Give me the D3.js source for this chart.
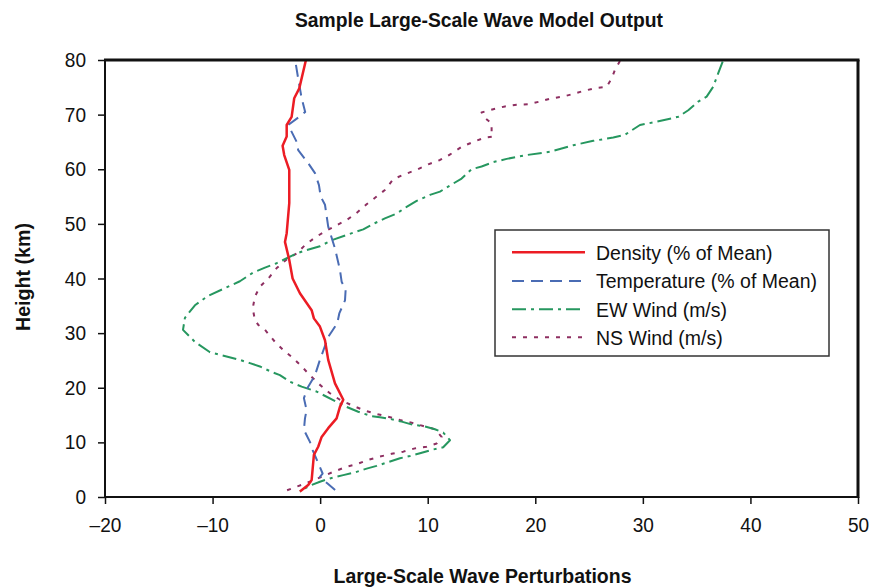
<!DOCTYPE html>
<html>
<head>
<meta charset="utf-8">
<script src="https://cdn.jsdelivr.net/npm/d3@7"></script>
<style>
  html, body { margin: 0; padding: 0; background: #fff; }
  svg { display: block; font-family: "Liberation Sans", Arial, sans-serif; }
</style>
</head>
<body>
<svg id="chart" width="875" height="588"></svg>
<script>
// ---------------- DATA ----------------
const titleText = "Sample Large-Scale Wave Model Output";
const xLabelText = "Large-Scale Wave Perturbations";
const yLabelText = "Height (km)";
const xTicks = [-20, -10, 0, 10, 20, 30, 40, 50];
const yTicks = [0, 10, 20, 30, 40, 50, 60, 70, 80];
const seriesNames = ["Density (% of Mean)", "Temperature (% of Mean)", "EW Wind (m/s)", "NS Wind (m/s)"];

const densityH = [80, 74.8, 73, 69.6, 68.1, 66, 64.3, 62.6, 59.9, 53.8, 48.3, 46.7, 43.4, 40, 37.3, 34.2, 32.7, 31.2, 28.7, 25.1, 20.8, 17.8, 16.5, 14.4, 12.6, 11.0, 9.2, 7.7, 3.1, 2.2, 1.0];
const densityX = [-1.32, -1.94, -2.41, -2.65, -3.11, -3.11, -3.49, -3.34, -2.87, -2.87, -3.11, -3.27, -2.87, -2.56, -1.88, -0.79, -0.58, -0.02, 0.45, 0.75, 1.38, 2.15, 1.84, 1.53, 0.75, 0.14, -0.18, -0.58, -0.79, -1.11, -1.88];

const tempH = [79.1, 76.6, 73, 70.5, 69.7, 68.1, 65, 63.5, 61.1, 59.3, 57.1, 55, 53.5, 49.5, 45.5, 41.6, 39.4, 37.9, 36, 33.6, 31.8, 29.3, 25.1, 22.3, 20.2, 18.1, 15.9, 14.4, 12.3, 10.1, 8.6, 6.2, 4.3, 3.7, 2.5, 0.8];
const tempX = [-2.25, -2.04, -1.72, -1.39, -1.88, -2.97, -2.18, -2.04, -1.11, -0.48, -0.11, 0.05, 0.45, 0.75, 1.38, 1.84, 2.0, 2.37, 2.31, 1.78, 1.59, 0.75, -0.02, -0.48, -1.11, -1.51, -1.26, -1.41, -1.51, -0.95, -0.70, -0.18, 0.23, -0.02, 0.66, 1.68];

const ewH = [79.7, 77.6, 75.1, 73.3, 72.4, 70.8, 69.6, 68.7, 68.1, 66.3, 65.8, 65.2, 64.4, 63.2, 62.6, 61.9, 61.3, 60.5, 60.0, 58.3, 57.2, 55.9, 55.3, 54.2, 53.1, 51.9, 51.0, 50.0, 49.0, 48.4, 47.0, 45.9, 45.2, 44.6, 42.8, 42.0, 41.1, 39.5, 36.8, 35.1, 32.8, 30.6, 28.4, 26.5, 25.1, 24.5, 23.9, 22.9, 22.3, 21.1, 20.2, 19.3, 17.4, 16.5, 15.6, 14.8, 14.6, 14.3, 13.8, 13.2, 13.0, 12.4, 11.8, 10.4, 9.1, 8.7, 8.0, 7.5, 7.1, 6.3, 5.7, 5.2, 4.5, 4.0, 3.4, 2.8, 2.2, 1.6, 1.0];
const ewX = [37.42, 37.01, 36.54, 35.93, 35.15, 34.22, 33.29, 31.28, 29.73, 28.33, 27.25, 25.39, 23.53, 21.36, 19.20, 17.34, 16.09, 15.01, 14.08, 13.15, 12.22, 11.14, 10.21, 8.97, 8.04, 7.11, 6.02, 4.94, 4.01, 3.08, 1.07, -0.02, -1.26, -2.18, -4.04, -5.13, -6.22, -7.46, -10.43, -11.64, -12.57, -12.75, -11.64, -10.24, -7.46, -6.53, -5.60, -4.51, -3.74, -2.81, -1.72, -0.33, 1.53, 2.46, 3.54, 4.79, 5.56, 6.49, 7.58, 8.65, 9.58, 10.67, 11.44, 12.07, 11.44, 10.51, 9.28, 8.35, 7.42, 6.18, 5.25, 4.32, 3.24, 2.15, 0.91, -0.02, -0.79, -1.41, -1.88];

const nsH = [79.8, 78.2, 76.6, 75.1, 74.9, 74.4, 73.8, 73.3, 73.0, 72.4, 71.9, 71.8, 71.5, 71.0, 70.4, 69.4, 68.4, 66.6, 66.0, 65.8, 65.0, 64.1, 62.7, 61.7, 60.9, 59.9, 59.1, 58.2, 56.2, 55.0, 53.6, 52.0, 50.7, 49.6, 48.6, 47.5, 46.1, 44.6, 43.5, 41.9, 40.0, 38.5, 36.7, 34.5, 32.4, 31.5, 30.6, 28.4, 26.9, 25.4, 23.9, 22.3, 20.8, 19.0, 17.8, 16.8, 15.8, 15.2, 14.7, 14.1, 13.6, 13.0, 12.4, 11.0, 9.8, 9.2, 8.9, 8.3, 7.9, 7.4, 6.8, 6.0, 5.5, 4.6, 3.7, 2.8, 2.0, 1.2];
const nsX = [27.87, 27.41, 27.10, 26.63, 25.70, 24.62, 23.53, 22.60, 21.52, 20.43, 19.35, 18.27, 17.18, 16.09, 15.01, 15.32, 15.94, 15.94, 16.09, 15.32, 14.23, 13.15, 12.07, 11.14, 10.05, 8.97, 7.88, 6.80, 6.02, 5.25, 4.32, 3.39, 2.46, 1.38, 0.45, -0.48, -1.41, -2.18, -3.11, -4.04, -4.82, -5.60, -6.06, -6.27, -6.06, -5.75, -5.13, -4.20, -3.43, -2.50, -1.72, -0.95, -0.18, 0.91, 1.84, 2.93, 4.16, 5.25, 6.33, 7.42, 8.51, 9.58, 10.67, 11.29, 10.83, 9.90, 8.81, 7.73, 6.65, 5.56, 4.47, 3.39, 2.40, 1.22, 0.14, -0.95, -2.04, -3.11];

// ---------------- STYLE / LAYOUT ----------------
const W = 875, H = 588;
const mLeft = 105, mRight = 858, mTop = 60, mBottom = 497;
const colors = ["#ec1c24", "#4a6cb4", "#26975f", "#8e2f61"];
const dashes = [null, "12,7", "14,5,3,5", "4,7"];
const widths = [2.5, 2, 2, 2];

const svg = d3.select("#chart");
const x = d3.scaleLinear().domain([-20, 50]).range([mLeft, mRight]);
const y = d3.scaleLinear().domain([0, 80]).range([mBottom, mTop]);

function squeeze(sel, ratio) {
  sel.each(function () {
    const w = this.getComputedTextLength();
    d3.select(this).attr("textLength", w * ratio).attr("lengthAdjust", "spacingAndGlyphs");
  });
}
function fitTo(sel, target) {
  const w = sel.node().getComputedTextLength();
  sel.attr("textLength", target).attr("lengthAdjust", "spacingAndGlyphs");
  return target / w;
}

// series lines
const series = [
  { xs: densityX, hs: densityH },
  { xs: tempX, hs: tempH },
  { xs: ewX, hs: ewH },
  { xs: nsX, hs: nsH }
];
const line = d3.line().x(d => x(d[0])).y(d => y(d[1]));
svg.append("clipPath").attr("id", "clip").append("rect")
  .attr("x", mLeft).attr("y", mTop).attr("width", mRight - mLeft).attr("height", mBottom - mTop);
const gLines = svg.append("g").attr("clip-path", "url(#clip)");
[3, 2, 1, 0].forEach(i => {
  const s = series[i];
  const pts = s.xs.map((v, k) => [v, s.hs[k]]);
  gLines.append("path").datum(pts)
    .attr("d", line)
    .attr("fill", "none")
    .attr("stroke", colors[i])
    .attr("stroke-width", widths[i])
    .attr("stroke-dasharray", dashes[i])
    .attr("stroke-linejoin", "round");
});

// axes
const xAxis = svg.append("g").attr("transform", `translate(0,${mBottom})`)
  .call(d3.axisBottom(x).tickValues(xTicks).tickSize(7).tickPadding(13).tickFormat(d => d < 0 ? "\u2013" + Math.abs(d) : d));
const yAxis = svg.append("g").attr("transform", `translate(${mLeft},0)`)
  .call(d3.axisLeft(y).tickValues(yTicks).tickSize(7).tickPadding(12).tickFormat(d3.format("d")));
[xAxis, yAxis].forEach(a => {
  a.select(".domain").remove();
  a.selectAll(".tick line").attr("stroke", "#111").attr("stroke-width", 1.5);
  a.selectAll(".tick text").attr("fill", "#111").style("font-size", "20.5px").style("font-family", "'Liberation Sans', Arial, sans-serif");
  squeeze(a.selectAll(".tick text"), 0.93);
});

// frame
svg.append("line").attr("x1", mLeft).attr("x2", mRight).attr("y1", mBottom).attr("y2", mBottom).attr("stroke", "#111").attr("stroke-width", 2);
svg.append("line").attr("x1", mLeft).attr("x2", mLeft).attr("y1", mTop).attr("y2", mBottom + 1).attr("stroke", "#111").attr("stroke-width", 2);
svg.append("line").attr("x1", mLeft - 1).attr("x2", mRight + 1.5).attr("y1", mTop).attr("y2", mTop).attr("stroke", "#111").attr("stroke-width", 3);
svg.append("line").attr("x1", mRight).attr("x2", mRight).attr("y1", mTop).attr("y2", mBottom + 1).attr("stroke", "#111").attr("stroke-width", 3);

// title & labels
const title = svg.append("text").attr("x", 479).attr("y", 26.5).attr("text-anchor", "middle")
  .style("font-size", "21px").style("font-weight", "bold").attr("fill", "#111").text(titleText);
fitTo(title, 368);
const xl = svg.append("text").attr("x", 482.5).attr("y", 582.5).attr("text-anchor", "middle")
  .style("font-size", "20.5px").style("font-weight", "bold").attr("fill", "#111").text(xLabelText);
fitTo(xl, 298);
const yl = svg.append("text").attr("transform", "translate(30,277) rotate(-90)").attr("text-anchor", "middle")
  .style("font-size", "20.5px").style("font-weight", "bold").attr("fill", "#111").text(yLabelText);
fitTo(yl, 108);

// legend
const lg = svg.append("g");
lg.append("rect").attr("x", 495).attr("y", 230).attr("width", 334).attr("height", 126)
  .attr("fill", "#fff").attr("stroke", "#333").attr("stroke-width", 1.5);
const rowY = [252.3, 281, 309.3, 337.3];
const legTexts = [];
seriesNames.forEach((name, i) => {
  lg.append("line").attr("x1", 512).attr("x2", 585).attr("y1", rowY[i]).attr("y2", rowY[i])
    .attr("stroke", colors[i]).attr("stroke-width", widths[i]).attr("stroke-dasharray", dashes[i]);
  legTexts.push(lg.append("text").attr("x", 596).attr("y", rowY[i]).attr("dy", "0.36em")
    .style("font-size", "20px").attr("fill", "#111").text(name));
});
const ratio = 221 / legTexts[1].node().getComputedTextLength();
legTexts.forEach(t => squeeze(t, ratio));
</script>
</body>
</html>
